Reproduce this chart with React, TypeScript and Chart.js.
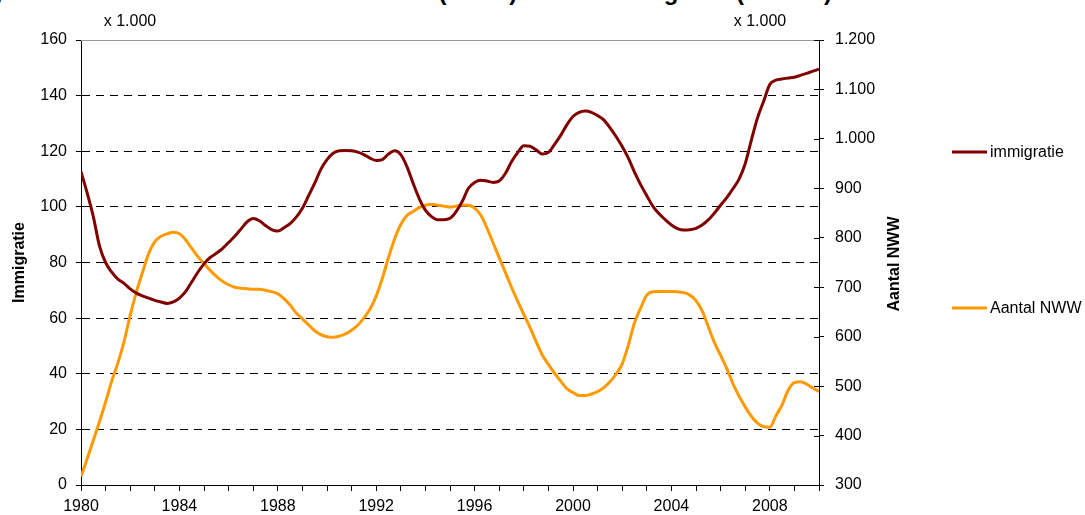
import React, { useEffect, useRef } from 'react';
import { Chart, registerables } from 'chart.js';

Chart.register(...registerables);

const FONT = '"Liberation Sans", Arial, sans-serif';

// x positions: quarterly, 1980 .. 2010
const quarters: number[] = Array.from({ length: 121 }, (_, i) => 1980 + i / 4);

// Immigratie (x 1.000), left axis
const immigratie: number[] = [
  112.7, 105, 96.5, 86,
  80, 76.5, 74, 72.5,
  70.5, 69, 68, 67.2,
  66.4, 65.8, 65.3, 65.8,
  67.2, 69.5, 73, 76.5,
  79.5, 81.8, 83.3, 85,
  87.2, 89.4, 92, 94.6,
  95.8, 95, 93.3, 91.8,
  91.3, 92.5, 94, 96.3,
  99.5, 104, 108.5, 113.5,
  117, 119.3, 120.2, 120.3,
  120.2, 119.7, 118.8, 117.5,
  116.7, 117, 119, 120.2,
  118.8, 114.5, 108.5, 103,
  98.8, 96.5, 95.4, 95.4,
  95.9, 98.3, 102, 106.7,
  108.8, 109.6, 109.3, 108.8,
  109.3, 112, 116.2, 119.5,
  122, 121.8, 120.5, 119,
  119.6, 122.5, 125.7, 129.5,
  132.5, 134, 134.5, 134,
  132.8, 131.3, 128.5, 125.3,
  121.7, 117.5, 112.5, 108,
  104, 100.2, 97.5, 95.4,
  93.5, 92.2, 91.7, 91.8,
  92.3, 93.5, 95.3, 97.8,
  100.6, 103.3, 106.5, 110,
  115.5, 124, 132, 138,
  144, 145.6, 146, 146.3,
  146.6, 147.3, 148, 148.8,
  149.5,
];

// Aantal NWW (x 1.000), right axis
const aantalNWW: number[] = [
  317, 353, 390, 428,
  468, 510, 547, 590,
  643, 690, 730, 768,
  792, 803, 808, 811,
  808, 796, 779, 762,
  748, 734, 722, 712,
  705, 700, 698, 697,
  696, 696, 694, 691,
  687, 677, 664, 648,
  636, 624, 612, 604,
  600, 598.7, 601, 605.5,
  613, 623, 638, 656,
  682, 718, 760, 798,
  827, 845, 853, 861,
  866, 868, 866, 864,
  862, 864, 866, 866,
  860, 846, 820, 790,
  760, 730, 700, 672,
  645, 619, 590, 563,
  544, 526, 510, 495,
  487, 481, 481, 484,
  489, 497, 509, 524,
  545, 583, 628, 658,
  684, 691, 691.5, 691.5,
  691.5, 691, 689, 684,
  673, 652, 620, 588,
  562, 536, 505, 480,
  458, 439, 425, 418,
  417, 440, 462, 492,
  507, 509, 504, 496,
  489,
];

const seriesNames = ['immigratie', 'Aantal NWW'];
const seriesColors = ['#800000', '#FF9900'];
const leftAxisTitle = 'Immigratie';
const rightAxisTitle = 'Aantal NWW';
const unitLabel = 'x 1.000';
const titleText = 'Ontwikkeling aantal niet-werkende werkzoekenden (NWW) versus immigratie (x 1.000)';

const fmt = (v: number) =>
  v >= 1000 ? `${Math.floor(v / 1000)}.${String(v % 1000).padStart(3, '0')}` : String(v);

const overlay = {
  id: 'overlay',
  afterDraw(chart: any) {
    const { ctx, chartArea } = chart;
    const { left, right, top } = chartArea;
    ctx.save();
    // top border of plot area
    ctx.strokeStyle = '#999999';
    ctx.lineWidth = 1;
    ctx.beginPath();
    ctx.moveTo(left, Math.round(top) + 0.5);
    ctx.lineTo(right, Math.round(top) + 0.5);
    ctx.stroke();
    // inner tick marks on right axis
    const y1 = chart.scales.y1;
    ctx.strokeStyle = '#000';
    y1.ticks.forEach((t: any) => {
      const y = Math.round(y1.getPixelForValue(t.value)) + 0.5;
      ctx.beginPath();
      ctx.moveTo(right - 5, y);
      ctx.lineTo(right, y);
      ctx.stroke();
    });
    // unit labels
    ctx.fillStyle = '#000';
    ctx.font = `16px ${FONT}`;
    ctx.textAlign = 'center';
    ctx.textBaseline = 'middle';
    ctx.fillText(unitLabel, 130, 22);
    ctx.fillText(unitLabel, 760, 22);
    // right axis title (reads bottom to top)
    ctx.save();
    ctx.translate(895, 264);
    ctx.rotate(-Math.PI / 2);
    ctx.font = `bold 16px ${FONT}`;
    ctx.fillText(rightAxisTitle, 0, 0);
    ctx.restore();
    // legend
    const legendY = [152, 308];
    seriesNames.forEach((name, i) => {
      ctx.strokeStyle = seriesColors[i];
      ctx.lineWidth = 3;
      ctx.beginPath();
      ctx.moveTo(952, legendY[i]);
      ctx.lineTo(987, legendY[i]);
      ctx.stroke();
      ctx.fillStyle = '#000';
      ctx.font = `16px ${FONT}`;
      ctx.textAlign = 'left';
      ctx.fillText(name, 990, legendY[i] + 1);
    });
    ctx.restore();
  },
};

export default function App() {
  const ref = useRef<HTMLCanvasElement>(null);
  useEffect(() => {
    if (!ref.current) return;
    Chart.defaults.font.family = FONT;
    Chart.defaults.color = '#000';
    const chart = new Chart(ref.current, {
      type: 'line',
      data: {
        datasets: [
          {
            label: seriesNames[0],
            data: quarters.map((x, i) => ({ x, y: immigratie[i] })),
            borderColor: seriesColors[0],
            backgroundColor: seriesColors[0],
            borderWidth: 3,
            pointRadius: 0,
            cubicInterpolationMode: 'monotone',
            yAxisID: 'y',
          },
          {
            label: seriesNames[1],
            data: quarters.map((x, i) => ({ x, y: aantalNWW[i] })),
            borderColor: seriesColors[1],
            backgroundColor: seriesColors[1],
            borderWidth: 3,
            pointRadius: 0,
            cubicInterpolationMode: 'monotone',
            yAxisID: 'y1',
          },
        ],
      },
      options: {
        responsive: false,
        animation: false,
        events: [],
        layout: { padding: { top: 40, left: 0, right: 176.4, bottom: 0 } },
        plugins: { legend: { display: false }, tooltip: { enabled: false } },
        scales: {
          x: {
            type: 'linear',
            min: 1980,
            max: 2010,
            afterFit: (s: any) => { s.height = 30; },
            ticks: {
              stepSize: 1,
              autoSkip: false,
              maxRotation: 0,
              padding: 6,
              font: { size: 16 },
              callback: (v: any) => (Number(v) % 4 === 0 ? String(v) : ''),
            },
            grid: { drawOnChartArea: false, tickLength: 6, tickColor: '#000' },
            border: { color: '#000', width: 1 },
          },
          y: {
            position: 'left',
            min: 0,
            max: 160,
            afterFit: (s: any) => { s.width = 81; },
            ticks: { stepSize: 20, padding: 9, font: { size: 16 } },
            grid: {
              tickLength: 5,
              tickColor: '#000',
              color: (c: any) =>
                c.tick && (c.tick.value === 0 || c.tick.value === 160) ? 'rgba(0,0,0,0)' : '#000',
            },
            border: { color: '#000', width: 1, dash: [8, 6] },
            title: {
              display: true,
              text: leftAxisTitle,
              font: { size: 16, weight: 'bold' },
              padding: { top: 10, bottom: 0 },
            },
          },
          y1: {
            position: 'right',
            min: 300,
            max: 1200,
            afterFit: (s: any) => { s.width = 89.6; },
            ticks: { stepSize: 100, padding: 11, font: { size: 16 }, callback: (v: any) => fmt(Number(v)) },
            grid: { drawOnChartArea: false, tickLength: 5, tickColor: '#000' },
            border: { color: '#000', width: 1 },
          },
        },
      },
      plugins: [overlay],
    } as any);
    return () => chart.destroy();
  }, []);

  return (
    <div style={{ position: 'fixed', left: 0, top: 0, width: 1085, height: 515, overflow: 'hidden', background: '#fff' }}>
      <div
        style={{
          position: 'absolute',
          left: -147,
          top: -20,
          fontFamily: FONT,
          fontWeight: 'bold',
          fontSize: 24,
          lineHeight: '24px',
          whiteSpace: 'nowrap',
          color: '#000',
        }}
      >
        {titleText}
      </div>
      <canvas ref={ref} width={1085} height={515} style={{ position: 'absolute', left: 0, top: 0 }} />
    </div>
  );
}
